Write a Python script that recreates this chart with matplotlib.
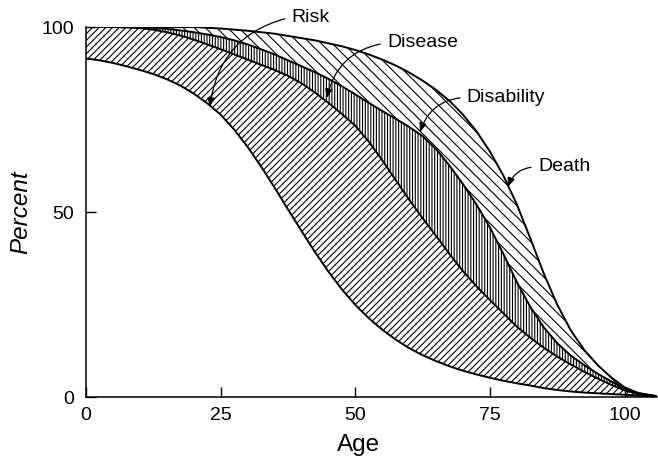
import matplotlib.pyplot as plt

plt.rcParams['font.family'] = ['Liberation Sans', 'DejaVu Sans']
plt.rcParams['hatch.linewidth'] = 0.8

# Values (percent still in each state by age)
age = [0, 2.5, 5, 7.5, 10, 12.5, 15, 17.5, 20, 22.5, 25, 27.5, 30, 32.5, 35, 37.5, 40, 42.5,
       45, 47.5, 50, 52.5, 55, 57.5, 60, 62.5, 65, 67.5, 70, 72.5, 75, 77.5, 80, 82.5, 85,
       87.5, 90, 92.5, 95, 97.5, 100, 102.5, 106]
risk = [91.5, 91.0, 90.3, 89.4, 88.4, 87.3, 85.9, 84.2, 82.0, 79.4, 76.3, 72.3, 67.6, 62.3,
        56.6, 50.7, 44.9, 39.2, 33.9, 29.1, 24.9, 21.3, 18.2, 15.5, 13.2, 11.3, 9.7, 8.3, 7.1,
        6.1, 5.2, 4.4, 3.7, 3.1, 2.4, 1.9, 1.5, 1.2, 1.0, 0.8, 0.6, 0.4, 0.1]
disease = [100, 100, 100, 99.9, 99.7, 99.3, 98.6, 97.7, 96.6, 95.3, 94.0, 92.6, 91.2, 89.8,
           88.4, 86.8, 84.8, 82.3, 79.5, 76.5, 73.3, 69.0, 64.0, 58.6, 53.3, 48.3, 43.5, 38.6,
           34.0, 29.9, 26.2, 22.6, 19.0, 16.0, 13.3, 10.9, 8.8, 6.8, 5.0, 3.3, 1.8, 0.8, 0.2]
disability = [100, 100, 100, 100, 100, 99.8, 99.5, 99.1, 98.6, 98.0, 97.3, 96.4, 95.3, 94.0,
              92.6, 91.0, 89.4, 87.8, 86.0, 84.0, 81.8, 79.5, 77.3, 75.2, 73.0, 70.5, 67.0, 62.5,
              57.5, 52.0, 45.8, 38.6, 31.0, 24.3, 18.8, 14.5, 11.2, 8.6, 6.3, 4.2, 2.3, 1.0, 0.2]
death = [100, 100, 100, 100, 100, 100, 100, 100, 100, 99.8, 99.6, 99.3, 99.0, 98.6, 98.2,
         97.6, 97.0, 96.4, 95.6, 94.8, 93.8, 92.6, 91.2, 89.6, 87.7, 85.5, 83.0, 80.0, 76.3,
         71.8, 66.3, 59.8, 52.0, 42.8, 33.3, 24.9, 18.0, 12.7, 8.6, 5.3, 2.6, 1.1, 0.2]

labels = ["Risk", "Disease", "Disability", "Death"]
label_xy = [(38.2, 102.7), (55.9, 95.7), (70.7, 81.0), (83.9, 62.2)]
arrow_xy = [(23.0, 78.4), (44.7, 80.8), (62.0, 71.6), (78.3, 56.8)]

fig = plt.figure(figsize=(6.58, 4.63), dpi=100)
ax = fig.add_axes([0.1307, 0.1425, 0.8678, 0.7991])

# hatched bands between the curves
ax.fill_between(age, risk, disease, facecolor='none', edgecolor='black', hatch='/////', linewidth=0)
ax.fill_between(age, disease, disability, facecolor='none', edgecolor='black', hatch='||||||', linewidth=0)
ax.fill_between(age, disability, death, facecolor='none', edgecolor='black', hatch='\\\\\\', linewidth=0)

for curve in (risk, disease, disability, death):
    ax.plot(age, curve, color='black', lw=1.4)

for text, (tx, ty), (ax_, ay) in zip(labels, label_xy, arrow_xy):
    ax.annotate(text, xy=(ax_, ay), xytext=(tx, ty), fontsize=14,
                ha='left', va='center', annotation_clip=False,
                arrowprops=dict(arrowstyle='-|>,head_length=0.45,head_width=0.18',
                                connectionstyle='arc3,rad=0.35', color='black',
                                lw=0.9, mutation_scale=12, shrinkA=3, shrinkB=0,
                                relpos=(0, 0.5)))

ax.set_xlim(0, 106)
ax.set_ylim(0, 100)
ax.spines['top'].set_visible(False)
ax.spines['right'].set_visible(False)
ax.spines['left'].set_linewidth(1.1)
ax.spines['bottom'].set_linewidth(1.1)
ax.set_xticks([0, 25, 50, 75, 100])
ax.set_yticks([0, 50, 100])
ax.tick_params(axis='both', direction='in', length=7, width=1, labelsize=14)
ax.tick_params(axis='y', pad=8.5)
ax.tick_params(axis='x', pad=7)

ax.set_xlabel("Age", fontsize=17.5)
ax.set_ylabel("Percent", fontsize=17.5, style='italic')
ax.xaxis.set_label_coords(0.477, -0.1)
ax.yaxis.set_label_coords(-0.095, 0.5)

fig.savefig("out.png", dpi=100)
